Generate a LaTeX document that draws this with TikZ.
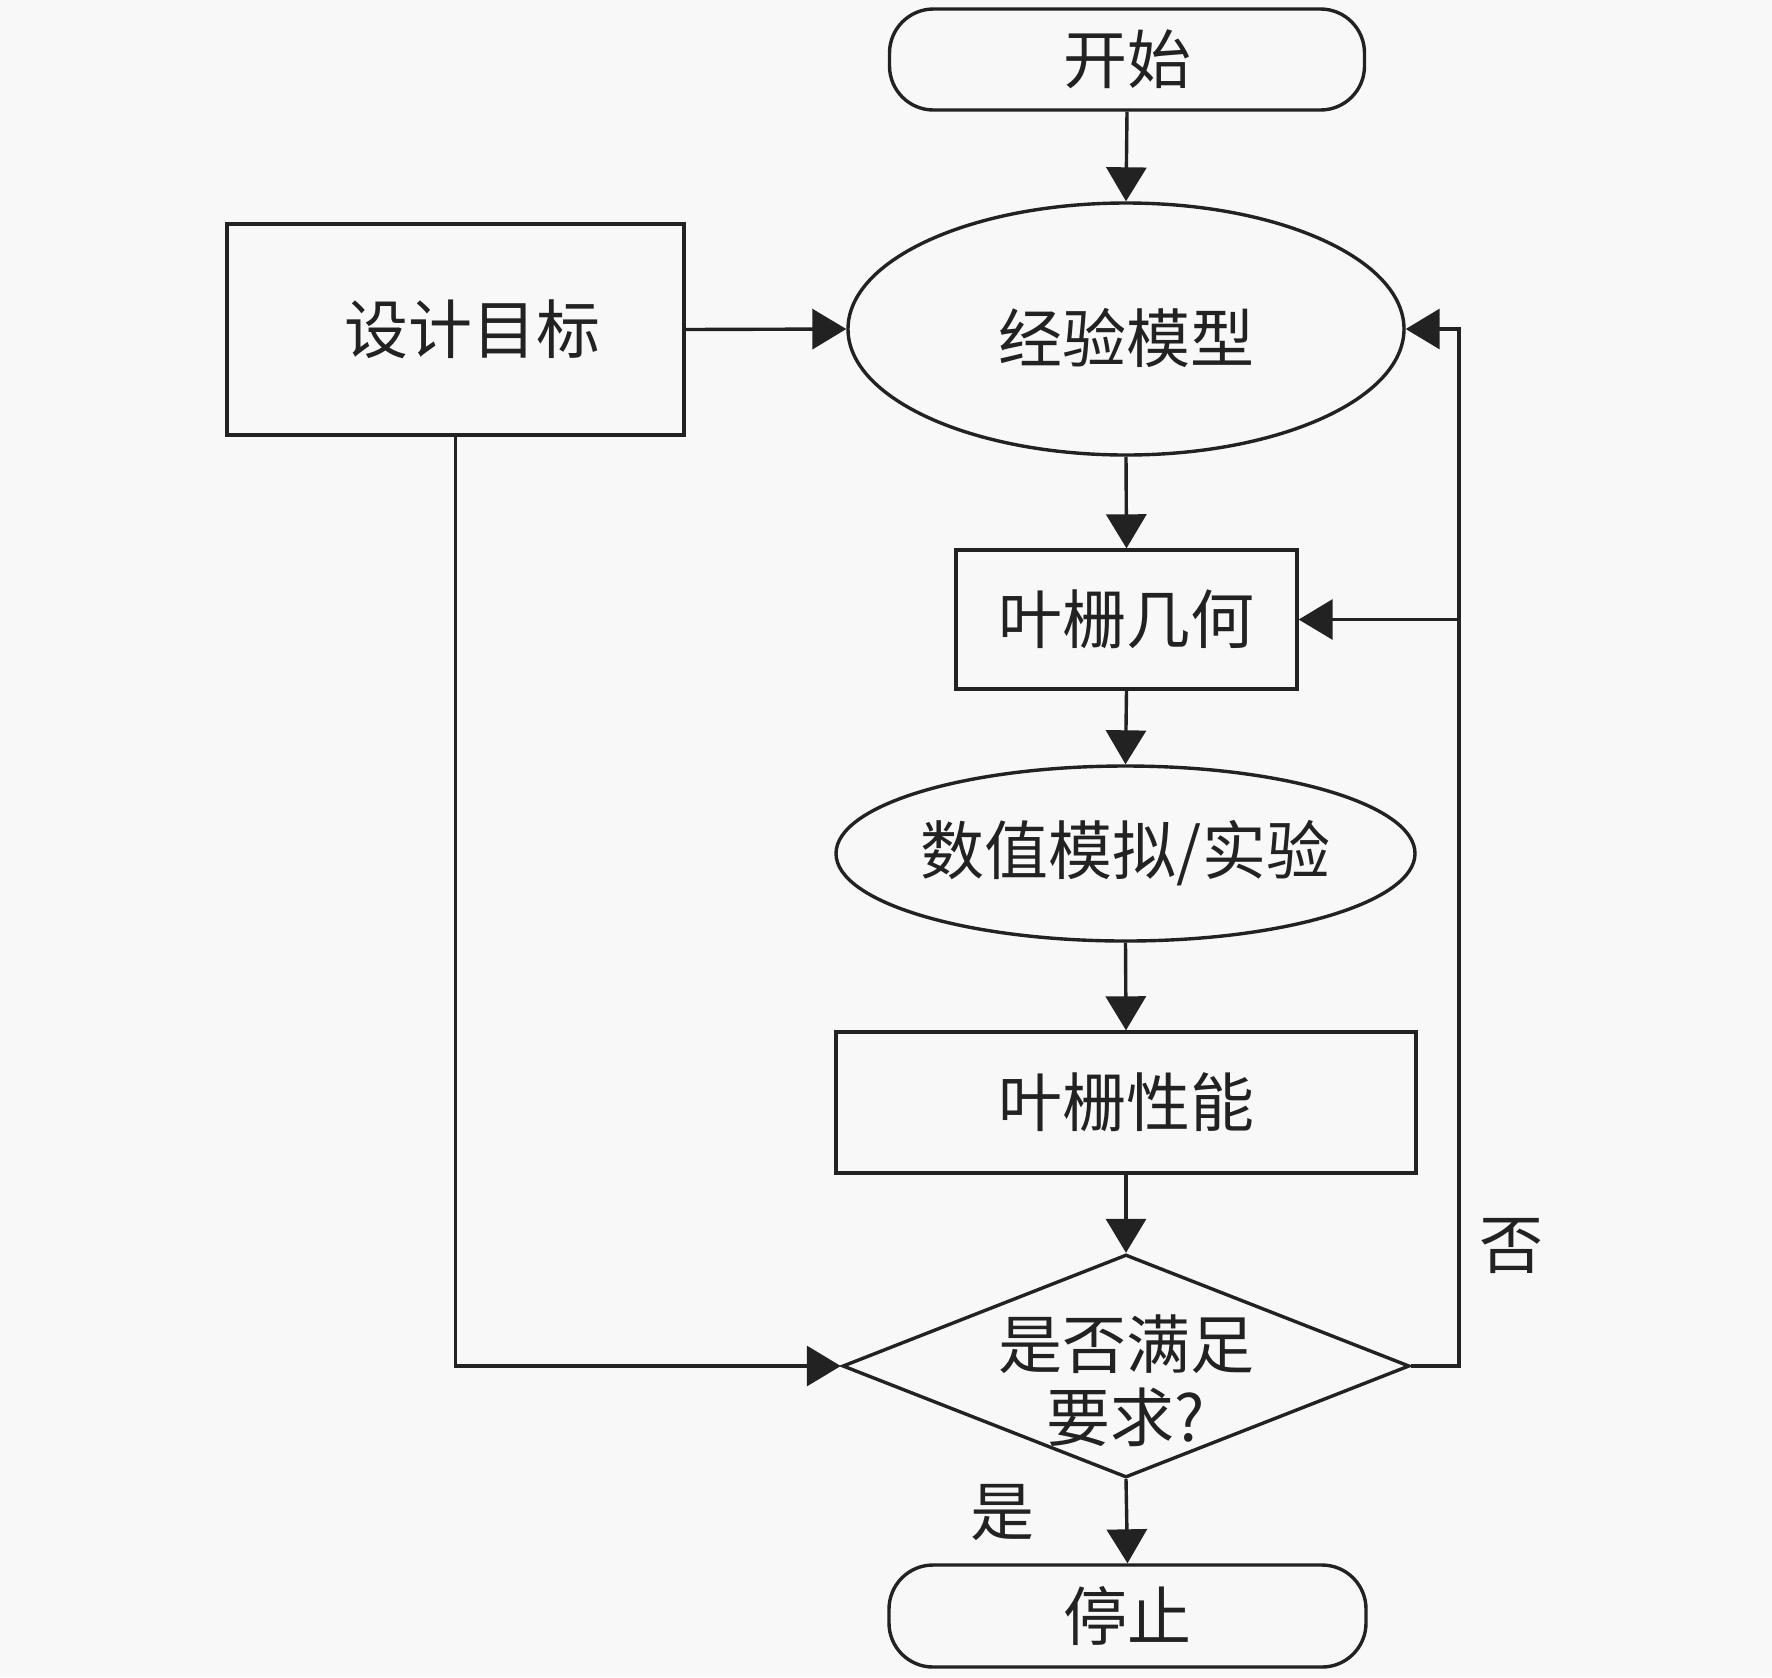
\documentclass[tikz,border=0pt]{standalone}
\usepackage{fontspec}
\newfontfamily\cjk{Noto Sans CJK SC}
\usetikzlibrary{shapes.geometric,arrows.meta}
\definecolor{ink}{HTML}{222222}
\definecolor{bg}{HTML}{F8F8F8}
\begin{document}
\begin{tikzpicture}[x=0.5pt,y=-0.5pt,
  every node/.style={font=\cjk\fontsize{32pt}{36.5pt}\selectfont, text=ink},
  box/.style={draw=ink, line width=1.7pt, inner sep=0pt},
  term/.style={box, rounded corners=22pt},
  oval/.style={box, ellipse},
  decision/.style={box, diamond},
  arr/.style={draw=ink, line width=1.7pt, -{Triangle[length=17pt,width=20pt]}}]
\useasboundingbox[fill=bg] (0,0) rectangle (1772,1677);
% nodes
\node[term, minimum width=237.5pt, minimum height=50.5pt] (start) at (1127,59.5) {开始};
\node[oval, minimum width=278pt, minimum height=126pt,
      label={[yshift=-4.5pt]center:经验模型}] (e1) at (1126,329) {};
\node[box, minimum width=228.5pt, minimum height=105.5pt] (dt) at (455.5,329.5) {\hspace*{17pt}设计目标};
\node[box, minimum width=170.5pt, minimum height=69.5pt] (geo) at (1126.5,619.5) {叶栅几何};
\node[oval, minimum width=289.5pt, minimum height=87.5pt] (sim) at (1125.5,853.5) {数值模拟/实验};
\node[box, minimum width=290pt, minimum height=70.5pt] (perf) at (1126,1102.5) {叶栅性能};
\node[decision, minimum width=283.5pt, minimum height=111.5pt,
      label={[align=center, yshift=-7.5pt]center:{是否满足\\要求?}}] (dec) at (1126,1366) {};
\node[term, minimum width=238.5pt, minimum height=51pt] (stop) at (1127.5,1616) {停止};
\node (no) at (1511,1246) {否};
\node (yes) at (1002,1512) {是};
% connectors
\coordinate (fbt) at (1459,329);
\draw[arr] (start.south) -- (e1.north);
\draw[arr] (dt.east) -- (e1.west);
\draw[arr] (e1.south) -- (geo.north);
\draw[arr] (geo.south) -- (sim.north);
\draw[arr] (sim.south) -- (perf.north);
\draw[arr] (perf.south) -- (dec.north);
\draw[arr] (dec.south) -- (stop.north);
\draw[arr] (dec.east) -| (fbt) -- (e1.east);
\draw[arr] (fbt |- geo.east) -- (geo.east);
\draw[arr] (dt.south) |- (dec.west);
\end{tikzpicture}
\end{document}
